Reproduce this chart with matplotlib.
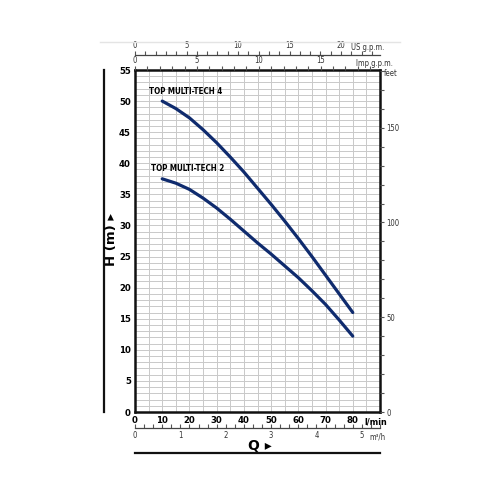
import numpy as np
import matplotlib.pyplot as plt
from matplotlib.ticker import MultipleLocator, FixedLocator

# Q in l/min, H in m
q_pts = [10, 15, 20, 25, 30, 35, 40, 45, 50, 55, 60, 65, 70, 75, 80]
h_mt4 = [50.0, 48.8, 47.3, 45.4, 43.3, 41.0, 38.6, 36.0, 33.4, 30.7, 27.9, 25.0, 22.0, 19.0, 16.0]
h_mt2 = [37.5, 36.8, 35.8, 34.4, 32.8, 31.0, 29.1, 27.2, 25.4, 23.5, 21.6, 19.5, 17.3, 14.8, 12.2]
names = ['TOP MULTI-TECH 4', 'TOP MULTI-TECH 2']

x_ticks = [0, 10, 20, 30, 40, 50, 60, 70, 80]
y_ticks = [0, 5, 10, 15, 20, 25, 30, 35, 40, 45, 50, 55]
feet_labels = [0, 50, 100, 150]

LPM_US = 3.785
LPM_IMP = 4.546
LPM_M3H = 1000 / 60.0
M_FT = 3.2808

fam = ['DejaVu Sans']
cond = dict(family=fam, fontstretch='condensed')
navy = '#0f2b6e'
tick_gray = '#555555'
txt_gray = '#333333'

fig = plt.figure(figsize=(5, 5), dpi=100)
ax = fig.add_axes([0.27, 0.176, 0.49, 0.684])
ax.set_xlim(0, 90)
ax.set_ylim(0, 55)

# grid: every 5 l/min and every 1 m
ax.xaxis.set_minor_locator(MultipleLocator(5))
ax.yaxis.set_minor_locator(MultipleLocator(1))
ax.grid(which='both', color='#c9c9c9', linewidth=0.7)
ax.set_axisbelow(True)

ax.plot(q_pts, h_mt4, color=navy, lw=2.3, solid_capstyle='round', solid_joinstyle='round')
ax.plot(q_pts, h_mt2, color=navy, lw=2.3, solid_capstyle='round', solid_joinstyle='round')
ax.text(q_pts[0] - 4.7, h_mt4[0] + 1.2, names[0], fontsize=5.8, fontweight='bold', **cond)
ax.text(q_pts[0] - 4.0, h_mt2[0] + 1.2, names[1], fontsize=5.8, fontweight='bold', **cond)

ax.set_xticks(x_ticks)
ax.set_yticks(y_ticks)
ax.set_xticklabels([str(v) for v in x_ticks], fontsize=6.8, fontweight='bold', **cond)
ax.set_yticklabels([str(v) for v in y_ticks], fontsize=6.8, fontweight='bold', **cond)
ax.tick_params(which='both', length=0, pad=3)
for s in ax.spines.values():
    s.set_linewidth(1.8)
    s.set_color('#111111')
ax.text(88.3, -1.6, 'l/min', fontsize=6.5, fontweight='bold', ha='center', va='center', **cond)

# feet on the right
axr = ax.twinx()
axr.set_ylim(0, 55 * M_FT)
axr.yaxis.set_major_locator(FixedLocator(feet_labels))
axr.yaxis.set_minor_locator(MultipleLocator(10))
axr.tick_params(which='both', direction='out', length=3, width=0.8, color=tick_gray,
                labelsize=5.5, labelcolor=txt_gray, pad=1.5)
axr.set_yticklabels([str(v) for v in feet_labels], **cond)
for s in axr.spines.values():
    s.set_visible(False)
fig.text(0.768, 0.853, 'feet', fontsize=5.5, va='center', color=txt_gray, **cond)

# Imp g.p.m. along the top spine
axt = ax.twiny()
axt.set_xlim(0, 90 / LPM_IMP)
axt.xaxis.set_major_locator(FixedLocator([0, 5, 10, 15]))
axt.xaxis.set_minor_locator(MultipleLocator(1))
axt.tick_params(which='both', direction='out', length=3, width=0.8, color=tick_gray,
                labelsize=5.5, labelcolor=txt_gray, pad=0.5)
axt.set_xticklabels(['0', '5', '10', '15'], **cond)
for s in axt.spines.values():
    s.set_visible(False)
fig.text(0.748, 0.874, 'Imp g.p.m.', fontsize=5.5, ha='center', va='center', color=txt_gray, **cond)

# US g.p.m. on a separate line above
axu = fig.add_axes([0.27, 0.89, 0.49, 0.0001])
axu.set_xlim(0, 90 / LPM_US)
axu.set_ylim(0, 1)
axu.xaxis.set_ticks_position('top')
axu.xaxis.set_major_locator(FixedLocator([0, 5, 10, 15, 20]))
axu.xaxis.set_minor_locator(MultipleLocator(1))
axu.tick_params(which='both', direction='out', length=3, width=0.8, color=tick_gray,
                labelsize=5.5, labelcolor=txt_gray, pad=0.5)
axu.set_xticklabels(['0', '5', '10', '15', '20'], **cond)
axu.set_yticks([])
for k, s in axu.spines.items():
    s.set_visible(k == 'top')
axu.spines['top'].set_color('#444444')
axu.spines['top'].set_linewidth(0.9)
fig.text(0.736, 0.905, 'US g.p.m.', fontsize=5.5, ha='center', va='center', color=txt_gray, **cond)

# m3/h on a separate line below
axm = fig.add_axes([0.27, 0.144, 0.49, 0.0001])
axm.set_xlim(0, 90 / LPM_M3H)
axm.set_ylim(0, 1)
axm.xaxis.set_major_locator(FixedLocator([0, 1, 2, 3, 4, 5]))
axm.xaxis.set_minor_locator(MultipleLocator(0.2))
axm.tick_params(which='both', direction='in', length=3, width=0.8, color=tick_gray,
                labelsize=5.5, labelcolor=txt_gray, pad=2)
axm.set_xticklabels(['0', '1', '2', '3', '4', '5'], **cond)
axm.set_yticks([])
for k, s in axm.spines.items():
    s.set_visible(k == 'bottom')
axm.spines['bottom'].set_color('#444444')
axm.spines['bottom'].set_linewidth(0.9)
fig.text(0.739, 0.127, 'm³/h', fontsize=5.5, ha='left', va='center', color=txt_gray, **cond)

# axis titles and decorative rules
fig.text(0.52, 0.108, 'Q ▸', fontsize=10, fontweight='bold', ha='center', va='center', family=fam)
fig.text(0.224, 0.52, 'H (m) ▸', fontsize=9.5, fontweight='bold', ha='center', va='center',
         rotation=90, family=fam)
fig.add_artist(plt.Line2D([0.27, 0.76], [0.094, 0.094], color='#111111', lw=1.6))
fig.add_artist(plt.Line2D([0.208, 0.208], [0.176, 0.86], color='#111111', lw=1.6))
fig.add_artist(plt.Line2D([0.2, 0.8], [0.916, 0.916], color='#e4e4e4', lw=1.0))

fig.savefig('out.png', dpi=100)
